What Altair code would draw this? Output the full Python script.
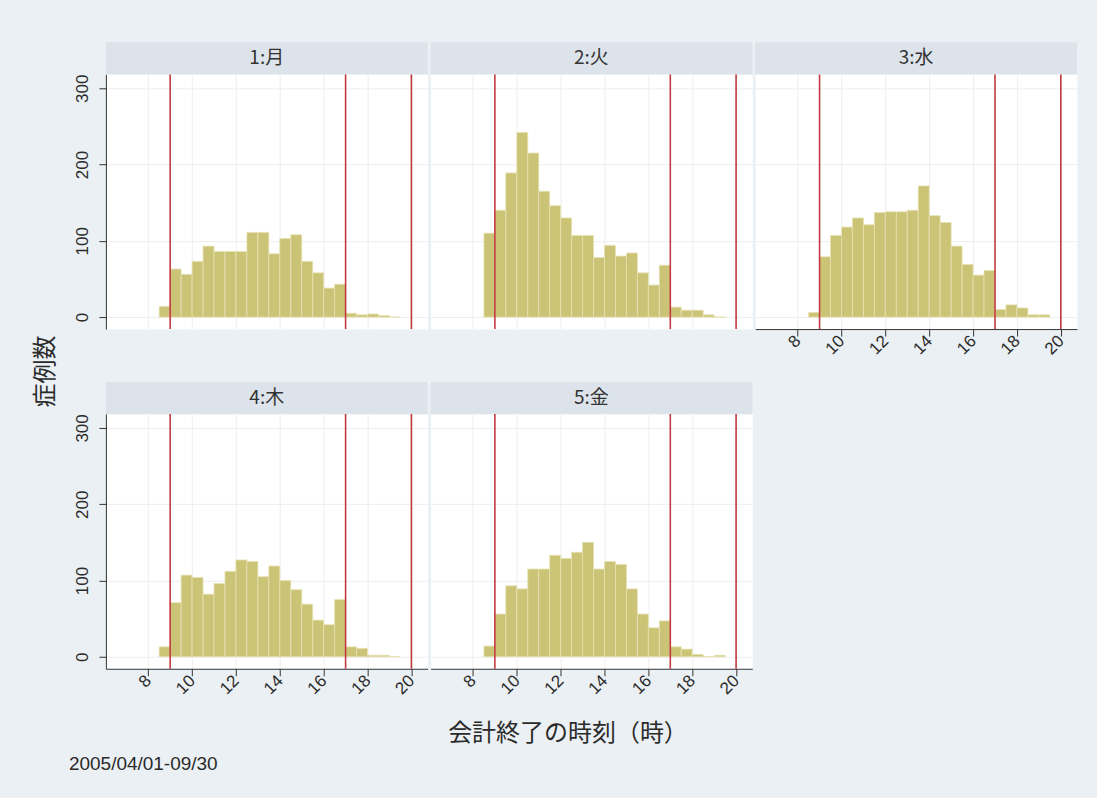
import altair as alt
import pandas as pd

# Weekday panels (number:kanji)
DAYS = ["1:月", "2:火", "3:水", "4:木", "5:金"]

# Half-hour bins: left edge of each bin (hours)
BIN_START = [8.5, 9.0, 9.5, 10.0, 10.5, 11.0, 11.5, 12.0, 12.5, 13.0, 13.5,
             14.0, 14.5, 15.0, 15.5, 16.0, 16.5, 17.0, 17.5, 18.0, 18.5, 19.0]
BIN_WIDTH = 0.5

# Case counts per bin, one list per weekday
MON = [14, 63, 56, 73, 93, 86, 86, 86, 111, 111, 83, 103, 108, 73, 58, 38, 43, 5, 3, 4, 2, 0]
TUE = [110, 140, 189, 242, 215, 165, 146, 130, 107, 107, 78, 94, 80, 84, 58, 42, 68, 13, 9, 9, 3, 0]
WED = [6, 79, 107, 118, 130, 121, 137, 138, 138, 140, 172, 133, 124, 93, 69, 55, 61, 10, 16, 12, 3, 3]
THU = [13, 71, 107, 104, 82, 96, 112, 127, 125, 105, 119, 100, 88, 69, 48, 42, 75, 13, 11, 2, 2, 0]
FRI = [14, 56, 93, 89, 115, 115, 133, 129, 137, 150, 115, 125, 121, 89, 56, 38, 47, 13, 10, 3, 0, 2]

# Reference hours drawn as vertical lines
MARK_HOURS = [9, 17, 20]

X_TICKS = [8, 10, 12, 14, 16, 18, 20]
Y_TICKS = [0, 100, 200, 300]

X_TITLE = "会計終了の時刻（時）"
Y_TITLE = "症例数"
PERIOD = "2005/04/01-09/30"

W, H = 322, 255
X_DOMAIN = [6.07, 20.74]
Y_DOMAIN = [-15.7, 318.3]

BAR = "#cbc476"
BAR_EDGE = "#e6e2b2"
RED = "#c23a40"
STRIP = "#dde3ea"
BG = "#eaf0f4"
GRID = "#eeeeee"
INK = "#2a2a2a"
LATIN = "Liberation Sans"
CJK = "Noto Sans CJK JP"

xs = alt.Scale(domain=X_DOMAIN, nice=False, zero=False)
ys = alt.Scale(domain=Y_DOMAIN, nice=False, zero=False)


def x_axis(show, title_pos=None):
    kw = dict(values=X_TICKS, grid=True, gridColor=GRID, gridWidth=1,
              labels=show, ticks=show, domain=show,
              labelAngle=315, labelAlign="right", labelBaseline="middle",
              labelPadding=2, labelFont=LATIN, labelFontSize=17, labelColor=INK,
              tickSize=7, tickColor="#333", domainColor="#333")
    if title_pos is not None:
        kw.update(title=X_TITLE, titleX=title_pos[0], titleY=title_pos[1],
                  titleAlign="center", titleBaseline="middle", titleFont=CJK,
                  titleFontSize=24, titleFontWeight="normal", titleColor=INK)
    return alt.Axis(**kw)


def y_axis(show, title_pos=None):
    kw = dict(values=Y_TICKS, grid=True, gridColor=GRID, gridWidth=1,
              labels=show, ticks=show, domain=show,
              labelAngle=270, labelAlign="center", labelBaseline="bottom",
              labelPadding=7, labelFont=LATIN, labelFontSize=17, labelColor=INK,
              tickSize=7, tickColor="#333", domainColor="#333")
    if title_pos is not None:
        kw.update(title=Y_TITLE, titleX=title_pos[0], titleY=title_pos[1],
                  titleAngle=270, titleAlign="center", titleBaseline="middle",
                  titleFont=CJK, titleFontSize=24, titleFontWeight="normal",
                  titleColor=INK)
    return alt.Axis(**kw)


def panel(label, counts, show_x, show_y, x_title_pos=None, y_title_pos=None,
          footer=False):
    bins = pd.DataFrame({
        "h": BIN_START,
        "h2": [s + BIN_WIDTH for s in BIN_START],
        "n": counts,
    })
    xa = x_axis(show_x, x_title_pos)
    ya = y_axis(show_y, y_title_pos)
    xt = X_TITLE if x_title_pos is not None else None
    yt = Y_TITLE if y_title_pos is not None else None

    bars = alt.Chart(bins).mark_rect(
        fill=BAR, stroke=BAR_EDGE, strokeWidth=0.8
    ).encode(
        x=alt.X("h:Q", scale=xs, axis=xa, title=xt),
        x2="h2:Q",
        y=alt.Y("n:Q", scale=ys, axis=ya, title=yt),
        y2=alt.datum(0),
    )

    rules = alt.Chart(pd.DataFrame({"h": MARK_HOURS})).mark_rule(
        color=RED, strokeWidth=1.6
    ).encode(x=alt.X("h:Q", scale=xs, axis=xa, title=xt))

    head = pd.DataFrame({"label": [label]})
    strip = alt.Chart(head).mark_rect(fill=STRIP).encode(
        x=alt.value(0), x2=alt.value(W), y=alt.value(-32), y2=alt.value(0)
    )
    strip_text = alt.Chart(head).mark_text(
        font=CJK, fontSize=19, color="#333", baseline="middle"
    ).encode(x=alt.value(W / 2), y=alt.value(-16), text="label:N")

    layers = [bars, rules, strip, strip_text]
    if footer:
        note = alt.Chart(pd.DataFrame({"t": [PERIOD]})).mark_text(
            font=LATIN, fontSize=19, color=INK, align="left", baseline="middle"
        ).encode(x=alt.value(-37), y=alt.value(350), text="t:N")
        layers.append(note)

    return alt.layer(*layers).properties(width=W, height=H)


p1 = panel(DAYS[0], MON, False, True, y_title_pos=(-60, 297))
p2 = panel(DAYS[1], TUE, False, False)
p3 = panel(DAYS[2], WED, True, False)
p4 = panel(DAYS[3], THU, True, True, footer=True)
p5 = panel(DAYS[4], FRI, True, False, x_title_pos=(137, 65))

chart = alt.concat(
    p1, p2, p3, p4, p5,
    columns=3,
    spacing={"row": 85, "column": 3},
    bounds="flush",
).properties(
    background=BG,
    padding={"left": 33, "top": 41, "right": 19, "bottom": 25},
).configure_view(fill="white", stroke="transparent")

chart.save("out.html", embed_options={"renderer": "svg", "actions": False})
